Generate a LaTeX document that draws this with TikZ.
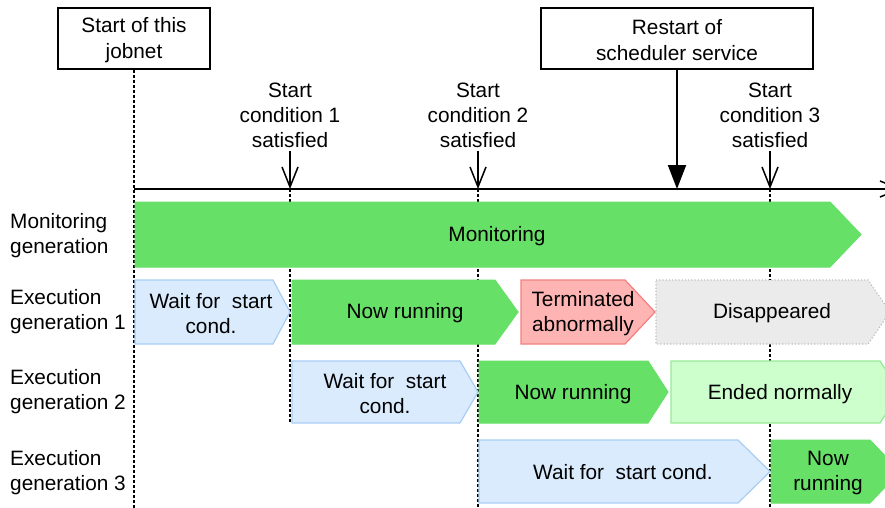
\documentclass[tikz,border=0pt]{standalone}
\usepackage{fontspec}
\setmainfont{Liberation Sans}
\usetikzlibrary{arrows.meta}
\definecolor{rungreen}{RGB}{102,224,102}
\definecolor{waitfill}{RGB}{218,235,253}
\definecolor{waitdraw}{RGB}{168,205,245}
\definecolor{errfill}{RGB}{255,180,180}
\definecolor{errdraw}{RGB}{240,128,128}
\definecolor{gonefill}{RGB}{235,235,235}
\definecolor{gonedraw}{RGB}{190,190,190}
\definecolor{endfill}{RGB}{204,255,204}
\definecolor{enddraw}{RGB}{150,235,150}
\tikzset{
  txt/.style={font=\fontsize{20.8}{25}\selectfont, align=center, inner sep=0pt},
  rowlbl/.style={font=\fontsize{20.8}{25}\selectfont, align=left, anchor=west, inner sep=0pt},
  evbox/.style={draw, line width=1.5pt, fill=white, font=\fontsize{20.8}{26}\selectfont, align=center, inner sep=0pt},
  guide/.style={dash pattern=on 3pt off 2pt, line width=1.2pt},
  run/.style={fill=rungreen, draw=rungreen, line width=1pt},
  waitst/.style={fill=waitfill, draw=waitdraw, line width=1.2pt},
  errst/.style={fill=errfill, draw=errdraw, line width=1.2pt},
  gonest/.style={fill=gonefill, draw=gonedraw, line width=1.2pt, dotted},
  endst/.style={fill=endfill, draw=enddraw, line width=1.2pt},
  condarrow/.style={line width=1.5pt, -{Straight Barb[length=20pt,width=16pt,line width=1.5pt]}},
  restartarrow/.style={line width=2pt, -{Triangle[length=24pt,width=18pt]}},
}
\newcommand\chev[6]{\path[#1] (#2,#5) -- (#3,#5) -- (#4,{(#5+#6)/2}) -- (#3,#6) -- (#2,#6) -- cycle;}
\begin{document}
\begin{tikzpicture}[x=1pt,y=-1pt]
\useasboundingbox (0,0) rectangle (885,508);
\clip (0,0) rectangle (885,508);
% event boxes
\node[evbox, minimum width=152pt, minimum height=61pt] (jobstart) at (134,38.5) {};
\node[txt, font=\fontsize{20.8}{26}\selectfont] (jobstarttxt) at (134,40) {Start of this\\jobnet};
\node[evbox, minimum width=272pt, minimum height=61pt] (restart) at (677,38.5) {};
\node[txt, font=\fontsize{20.8}{26}\selectfont] (restarttxt) at (677,40) {Restart of\\scheduler service};
% condition labels
\node[txt] (c1) at (290,115) {Start\\condition 1\\satisfied};
\node[txt] (c2) at (478,115) {Start\\condition 2\\satisfied};
\node[txt] (c3) at (770,115) {Start\\condition 3\\satisfied};
% axis coordinates
\coordinate (a0) at (134,189);
\coordinate (a1) at (290,189);
\coordinate (a2) at (478,189);
\coordinate (a3) at (770,189);
\coordinate (ar) at (677,189);
\coordinate (aend) at (902,189);
% guide lines
\draw[guide] (jobstart.south) -- (134,508);
\draw[guide] (a1) -- (290,423);
\draw[guide] (a2) -- (478,508);
\draw[guide] (a3) -- (770,508);
% axis
\draw[condarrow] (a0) -- (aend);
\draw[condarrow] (290,151) -- (a1);
\draw[condarrow] (478,151) -- (a2);
\draw[condarrow] (770,151) -- (a3);
\draw[restartarrow] (restart.south) -- (ar);
% row labels
\node[rowlbl] (lmon) at (10,236) {Monitoring\\generation};
\node[rowlbl] (lg1) at (10,312) {Execution\\generation 1};
\node[rowlbl] (lg2) at (10,392) {Execution\\generation 2};
\node[rowlbl] (lg3) at (10,473) {Execution\\generation 3};
% monitoring
\chev{run}{135}{830}{861}{202}{267}
\node[txt] (mon) at (497,236) {Monitoring};
% generation 1
\chev{waitst}{135}{273}{290}{280}{344}
\node[txt] (w1) at (211,314) {Wait for\ \ start\\cond.};
\chev{run}{292}{495}{518}{280}{344}
\node[txt] (r1) at (405,313) {Now running};
\chev{errst}{521}{625}{655}{280}{344}
\node[txt] (t1) at (583,314) {Terminated\\abnormally};
\chev{gonest}{656}{868}{890}{280}{344}
\node[txt] (d1) at (772,313) {Disappeared};
% generation 2
\chev{waitst}{292}{460}{478}{361}{423}
\node[txt] (w2) at (385,394) {Wait for\ \ start\\cond.};
\chev{run}{479}{648}{668}{361}{423}
\node[txt] (r2) at (573,394) {Now running};
\chev{endst}{671}{880}{900}{361}{423}
\node[txt] (e2) at (780,394) {Ended normally};
% generation 3
\chev{waitst}{479}{738}{770}{440}{503}
\node[txt] (w3) at (623,472) {Wait for\ \ start cond.};
\chev{run}{771}{870}{900}{440}{503}
\node[txt] (r3) at (828,473) {Now\\running};
\end{tikzpicture}
\end{document}
